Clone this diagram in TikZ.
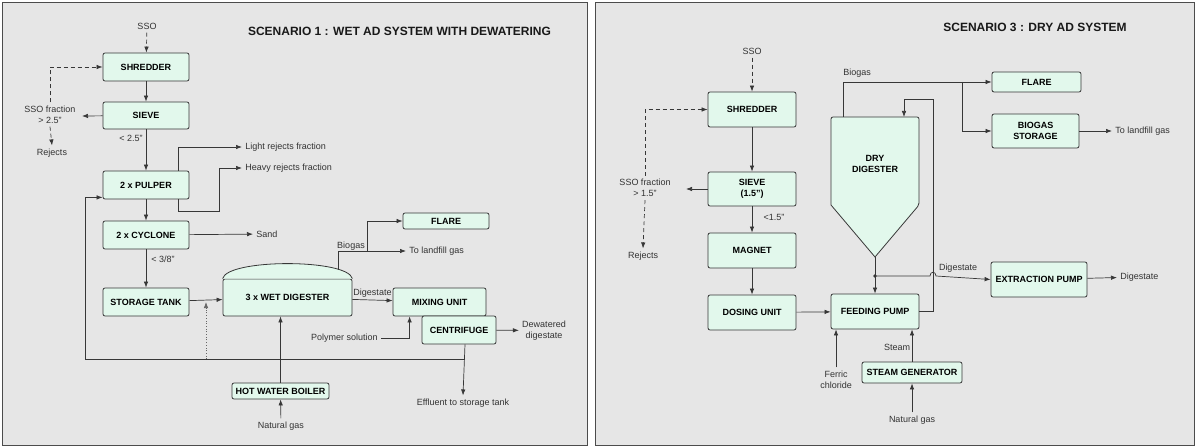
\documentclass[tikz,border=0pt]{standalone}
\usepackage{fontspec}
\setmainfont{Liberation Sans}
\usetikzlibrary{arrows.meta}
\definecolor{panel}{RGB}{230,230,230}
\definecolor{mint}{RGB}{226,248,236}
\definecolor{wire}{RGB}{55,55,55}

\begin{document}
\begin{tikzpicture}[x=1pt,y=-1pt,->,>={Latex[length=6pt,width=4.5pt]},line width=0.7pt,draw=wire,
    unit/.style={rectangle,rounded corners=2pt,draw=wire,fill=mint,line width=0.8pt,inner sep=0pt,align=center,font=\bfseries\fontsize{9}{11}\selectfont},
    lbl/.style={inner sep=3pt,align=center,text=black!80,font=\fontsize{9}{11}\selectfont},
    head/.style={inner sep=0pt,text=black!90,font=\bfseries\fontsize{12}{14}\selectfont},
    frame/.style={-,draw=black!70,fill=panel,line width=0.8pt},
    feed/.style={dash pattern=on 4pt off 3pt}]
    \useasboundingbox (0,0) rectangle (1196,446);
    \path[frame] (2,2) rectangle (587,445);
    \path[frame] (595,2) rectangle (1194,445);

    % scenario 1
    \node[head] (title1) at (399.5,31) {SCENARIO 1 : WET AD SYSTEM WITH DEWATERING};
    \node[lbl] (sso1) at (147,26) {SSO};
    \node[unit,minimum width=86,minimum height=28] (shred1) at (146,67) {SHREDDER};
    \node[unit,minimum width=86,minimum height=27] (sieve1) at (146,115.5) {SIEVE};
    \node[unit,minimum width=86,minimum height=28] (pulper1) at (146,185) {2 x PULPER};
    \node[unit,minimum width=86,minimum height=28] (cyclone1) at (146,235) {2 x CYCLONE};
    \node[unit,minimum width=86,minimum height=28] (tank1) at (146,302) {STORAGE TANK};
    \node[unit,minimum width=129,minimum height=37] (digester1) at (287.5,297.5) {3 x WET DIGESTER};
    \draw[-,fill=mint,line width=0.8pt] (digester1.north west) .. controls +(5,-20) and +(-5,-20) .. (digester1.north east);
    \node[unit,minimum width=93,minimum height=28] (mix1) at (439.5,302) {MIXING UNIT};
    \node[unit,minimum width=74,minimum height=28] (centr1) at (459,330) {CENTRIFUGE};
    \node[unit,minimum width=86,minimum height=16] (flare1) at (446,221) {FLARE};
    \node[unit,minimum width=97,minimum height=16] (boiler1) at (280.5,391) {HOT WATER BOILER};

    \node[lbl] (frac1) at (50,114.5) {SSO fraction\\> 2.5"};
    \node[lbl] (rej1) at (52,153) {Rejects};
    \node[lbl] at (131,138) {< 2.5"};
    \node[lbl,anchor=west] (light1) at (242,147) {Light rejects fraction};
    \node[lbl,anchor=west] (heavy1) at (242,168) {Heavy rejects fraction};
    \node[lbl,anchor=west] (sand1) at (253,234) {Sand};
    \node[lbl] at (163,259) {< 3/8"};
    \node[lbl] at (351,246) {Biogas};
    \node[lbl,anchor=west] (gas1) at (406,251) {To landfill gas};
    \node[lbl,anchor=east] (poly1) at (381,338) {Polymer solution};
    \node[lbl] (dew1) at (544,330.5) {Dewatered\\digestate};
    \node[lbl] (eff1) at (463,403) {Effluent to storage tank};
    \node[lbl] (ng1) at (281,426) {Natural gas};

    \coordinate (c1) at (82,116);
    \coordinate (h1) at (219,211);
    \coordinate (ret1) at (465,359);
    \coordinate (ret2) at (85,359);
    \coordinate (dot1) at (206,359);
    \coordinate (bgs1) at (338,270);
    \coordinate (bgj1) at (367,251);

    \draw[feed] (sso1) -- (shred1);
    \draw[feed] (frac1.north) |- (shred1.west);
    \draw[feed] (frac1.south) -- (rej1.north);
    \path (shred1) edge (sieve1)
          (sieve1) edge (c1)
                   edge (pulper1)
          (pulper1) edge (cyclone1)
          (cyclone1) edge (sand1)
                     edge (tank1)
          (tank1) edge (digester1)
          (digester1) edge node[lbl,above,pos=0.5,yshift=-1pt] {Digestate} (mix1)
          (centr1) edge (dew1)
          (ng1) edge (boiler1);
    \draw ([xshift=-11pt]pulper1.north east) |- (light1.west);
    \draw ([xshift=-11pt]pulper1.south east) |- (h1) |- (heavy1.west);
    \draw[dotted,black!60] (dot1) -- (dot1 |- tank1.east);
    \draw (ret1) -- (ret2) |- ([yshift=2pt]pulper1.south west);
    \draw ([xshift=6pt]centr1.south) -- (eff1.north);
    \draw (boiler1.north) -- (boiler1.north |- digester1.south);
    \draw (poly1.east) -| ([xshift=17pt]mix1.south west);
    \draw (bgs1) |- (gas1.west);
    \draw (bgj1) |- (flare1.west);

    % scenario 3
    \node[head] (title3) at (1035,27) {SCENARIO 3 : DRY AD SYSTEM};
    \node[lbl] (sso3) at (752,51) {SSO};
    \node[unit,minimum width=88,minimum height=35] (shred3) at (752,109.5) {SHREDDER};
    \node[unit,minimum width=88,minimum height=34] (sieve3) at (752,189) {SIEVE\\(1.5")};
    \node[unit,minimum width=88,minimum height=35] (magnet3) at (752,250.5) {MAGNET};
    \node[unit,minimum width=88,minimum height=35] (dosing3) at (752,312.5) {DOSING UNIT};
    \node[unit,minimum width=88,minimum height=35] (pump3) at (875,311.5) {FEEDING PUMP};
    \draw[-,fill=mint,line width=0.8pt] (875,257) -- (831,205) [rounded corners=2pt] -- (831,117) -- (919,117) -- (919,205) [sharp corners] -- cycle;
    \node[unit,draw=none,fill=none] (digester3) at (875,164) {DRY\\DIGESTER};
    \node[unit,minimum width=89,minimum height=20] (flare3) at (1036.5,82) {FLARE};
    \node[unit,minimum width=87,minimum height=34] (storage3) at (1035.5,131) {BIOGAS\\STORAGE};
    \node[unit,minimum width=96,minimum height=35] (extract3) at (1039,279.5) {EXTRACTION PUMP};
    \node[unit,minimum width=100,minimum height=21] (steam3) at (912,372.5) {STEAM GENERATOR};

    \node[lbl] (frac3) at (645,188) {SSO fraction\\> 1.5"};
    \node[lbl] (rej3) at (643,256) {Rejects};
    \node[lbl] at (774,217) {<1.5"};
    \node[lbl] at (857,73) {Biogas};
    \node[lbl,anchor=west] (gas3) at (1112,131) {To landfill gas};
    \node[lbl] at (958,268) {Digestate};
    \node[lbl,anchor=west] (out3) at (1117,277) {Digestate};
    \node[lbl] at (897,347) {Steam};
    \node[lbl] (ng3) at (912,420) {Natural gas};
    \node[lbl] (ferric3) at (836,379.5) {Ferric\\chloride};

    \coordinate (c3) at (686,189);
    \coordinate (apex3) at (875,257);
    \coordinate (dot3) at (875,276);
    \coordinate (rc3) at (933,99);
    \coordinate (dtop3) at (904,117);
    \coordinate (bgs3) at (843,117);
    \coordinate (bgj3) at (962,82);

    \draw[feed] (sso3) -- (shred3);
    \draw[feed] (frac3.north) |- (shred3.west);
    \draw[feed] (frac3.south) -- (rej3.north);
    \path (shred3) edge (sieve3)
          (sieve3) edge (c3)
                   edge (magnet3)
          (magnet3) edge (dosing3)
          (dosing3) edge (pump3)
          (apex3) edge (pump3)
          (storage3) edge (gas3)
          (extract3) edge (out3)
          (ng3) edge (steam3);
    \fill[-,wire] (dot3) circle (1.8pt);
    \draw (dot3) -- (930,276) .. controls (930,271) and (936,271) .. (936,276) -- (extract3.west);
    \draw (pump3) -| (rc3) -| (dtop3);
    \draw (bgs3) |- (flare3.west);
    \draw (bgj3) |- (storage3.west);
    \draw (steam3.north) -- (steam3.north |- pump3.south);
    \draw (ferric3.north) -- (ferric3.north |- pump3.south);
\end{tikzpicture}
\end{document}
